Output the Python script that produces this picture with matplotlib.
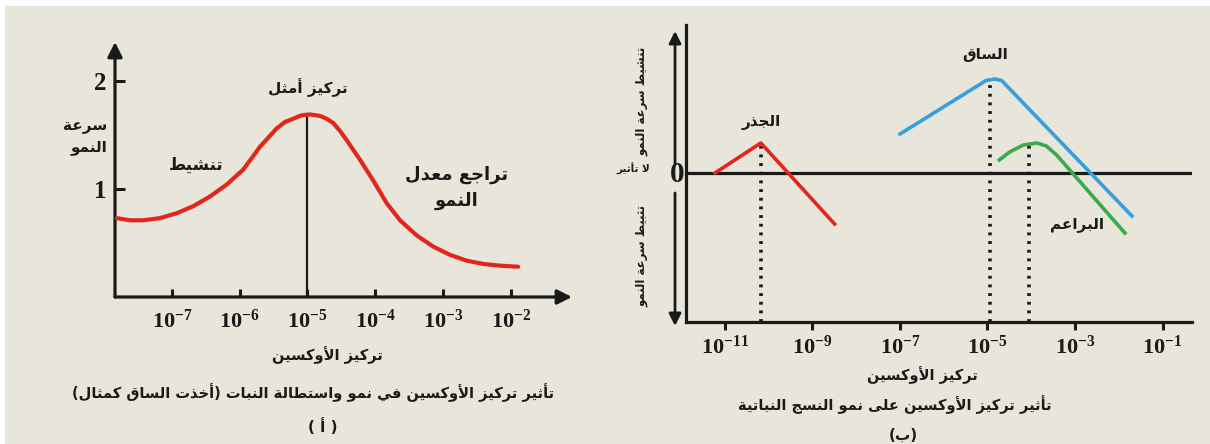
import matplotlib
matplotlib.use("Agg")
import matplotlib.pyplot as plt
from matplotlib import transforms
from matplotlib.patches import Rectangle

# ---- data ----
# (a) stem growth vs auxin concentration
conc_a = [1.53e-8, 2.4e-8, 3.77e-8, 6.65e-8, 1.17e-7, 2.06e-7, 3.64e-7, 6.41e-7,
          1.13e-6, 1.99e-6, 3.51e-6, 4.66e-6, 6.17e-6, 8.0e-6, 1.09e-5, 1.53e-5,
          1.94e-5, 2.4e-5, 3.02e-5, 3.8e-5, 5.96e-5, 9.3e-5, 1.47e-4, 2.32e-4,
          4.09e-4, 7.2e-4, 1.27e-3, 2.24e-3, 3.94e-3, 6.94e-3, 1.29e-2]
rate_a = [0.73, 0.71, 0.71, 0.73, 0.775, 0.84, 0.93, 1.04,
          1.18, 1.39, 1.56, 1.62, 1.65, 1.68, 1.69, 1.676,
          1.648, 1.61, 1.537, 1.45, 1.27, 1.08, 0.87, 0.71,
          0.57, 0.466, 0.39, 0.336, 0.306, 0.29, 0.28]
optimum_a = 1e-5
xticks_a = [1e-7, 1e-6, 1e-5, 1e-4, 1e-3, 1e-2]
xlabels_a = [r"$\mathbf{10^{-7}}$", r"$\mathbf{10^{-6}}$", r"$\mathbf{10^{-5}}$",
             r"$\mathbf{10^{-4}}$", r"$\mathbf{10^{-3}}$", r"$\mathbf{10^{-2}}$"]
yticks_a = [1, 2]

# (b) root / stem / buds
root_x = [5.9e-12, 6.6e-11, 3.2e-9]
root_y = [0.0, 0.30, -0.51]
stem_x = [1e-7, 9.3e-6, 1.48e-5, 2.1e-5, 2.0e-2]
stem_y = [0.39, 0.925, 0.94, 0.925, -0.43]
buds_x = [1.86e-5, 3.2e-5, 6.6e-5, 1.35e-4, 2.2e-4, 3.8e-4, 1.38e-2]
buds_y = [0.13, 0.21, 0.28, 0.30, 0.27, 0.18, -0.60]
optima_b = [6.6e-11, 1.17e-5, 9.1e-5]
optima_top = [0.30, 0.94, 0.30]
xticks_b = [1e-11, 1e-9, 1e-7, 1e-5, 1e-3, 1e-1]
xlabels_b = [r"$\mathbf{10^{-11}}$", r"$\mathbf{10^{-9}}$", r"$\mathbf{10^{-7}}$",
             r"$\mathbf{10^{-5}}$", r"$\mathbf{10^{-3}}$", r"$\mathbf{10^{-1}}$"]

# ---- minimal arabic shaping (matplotlib has no bidi / joining) ----
AR_FORMS = {
    0x0621: (0xFE80, 1), 0x0622: (0xFE81, 2), 0x0623: (0xFE83, 2), 0x0624: (0xFE85, 2),
    0x0625: (0xFE87, 2), 0x0626: (0xFE89, 4), 0x0627: (0xFE8D, 2), 0x0628: (0xFE8F, 4),
    0x0629: (0xFE93, 2), 0x062A: (0xFE95, 4), 0x062B: (0xFE99, 4), 0x062C: (0xFE9D, 4),
    0x062D: (0xFEA1, 4), 0x062E: (0xFEA5, 4), 0x062F: (0xFEA9, 2), 0x0630: (0xFEAB, 2),
    0x0631: (0xFEAD, 2), 0x0632: (0xFEAF, 2), 0x0633: (0xFEB1, 4), 0x0634: (0xFEB5, 4),
    0x0635: (0xFEB9, 4), 0x0636: (0xFEBD, 4), 0x0637: (0xFEC1, 4), 0x0638: (0xFEC5, 4),
    0x0639: (0xFEC9, 4), 0x063A: (0xFECD, 4), 0x0641: (0xFED1, 4), 0x0642: (0xFED5, 4),
    0x0643: (0xFED9, 4), 0x0644: (0xFEDD, 4), 0x0645: (0xFEE1, 4), 0x0646: (0xFEE5, 4),
    0x0647: (0xFEE9, 4), 0x0648: (0xFEED, 2), 0x0649: (0xFEEF, 2), 0x064A: (0xFEF1, 4),
}
LAM_ALEF = {0x0622: 0xFEF5, 0x0623: 0xFEF7, 0x0625: 0xFEF9, 0x0627: 0xFEFB}
MIRROR = {"(": ")", ")": "("}


def ar(text):
    lines = []
    for line in text.split("\n"):
        units = []
        i = 0
        while i < len(line):
            c = ord(line[i])
            if c == 0x0644 and i + 1 < len(line) and ord(line[i + 1]) in LAM_ALEF:
                units.append((LAM_ALEF[ord(line[i + 1])], 2))
                i += 2
            elif c in AR_FORMS:
                units.append(AR_FORMS[c])
                i += 1
            else:
                units.append((c, 0))
                i += 1
        out = []
        for k, (start, n) in enumerate(units):
            if n == 0:
                out.append(MIRROR.get(chr(start), chr(start)))
                continue
            prev_n = units[k - 1][1] if k > 0 else 0
            next_n = units[k + 1][1] if k + 1 < len(units) else 0
            jp = n >= 2 and prev_n == 4
            jn = n == 4 and next_n >= 2
            idx = 3 if (jp and jn) else 1 if jp else 2 if jn else 0
            out.append(chr(start + idx))
        lines.append("".join(reversed(out)))
    return "\n".join(lines)


plt.rcParams["mathtext.fontset"] = "custom"
plt.rcParams["mathtext.rm"] = "Liberation Serif:bold"
plt.rcParams["mathtext.bf"] = "Liberation Serif:bold"

BG = "#e8e5da"
RED = "#e2261c"
BLUE = "#35a0dc"
GREEN = "#3aaa4a"
INK = "#1a1a1a"
AR_FONT = dict(family="DejaVu Sans", fontweight="bold", color=INK)
NUM_FONT = dict(family="Liberation Serif", fontweight="bold", color=INK)

W, H = 1210, 444
fig = plt.figure(figsize=(W / 100, H / 100), dpi=100, facecolor="white")
fig.patches.append(Rectangle((5 / W, 0), 1, 1 - 6 / H, transform=fig.transFigure,
                             facecolor=BG, edgecolor="none", zorder=-10))

# ================= panel (a) =================
ax = fig.add_axes([115 / W, 1 - 297 / H, 457 / W, 255 / H])
ax.patch.set_visible(False)
ax.set_xscale("log")
ax.set_xlim(10 ** -7.841, 10 ** -1.096)
ax.set_ylim(0, 2.36)
for s in ax.spines.values():
    s.set_visible(False)
ax.annotate("", xy=(1, 0), xytext=(0, 0), xycoords="axes fraction",
            arrowprops=dict(arrowstyle="-|>", lw=2.3, color=INK,
                            mutation_scale=22, shrinkA=0, shrinkB=0))
ax.annotate("", xy=(0, 1), xytext=(0, 0), xycoords="axes fraction",
            arrowprops=dict(arrowstyle="-|>", lw=2.3, color=INK,
                            mutation_scale=22, shrinkA=0, shrinkB=0))
ax.plot(conc_a, rate_a, color=RED, lw=3.0, solid_capstyle="round",
        solid_joinstyle="round", zorder=3)
ax.plot([optimum_a, optimum_a], [0, max(rate_a)], color=INK, lw=1.6, zorder=2)

ax.set_xticks(xticks_a)
ax.set_xticks([], minor=True)
ax.set_xticklabels(xlabels_a, fontsize=16)
ax.set_yticks(yticks_a)
ax.set_yticklabels([str(v) for v in yticks_a], fontsize=18, **NUM_FONT)
ax.tick_params(axis="x", direction="in", length=6, width=2.2, pad=8, colors=INK)
ax.tick_params(axis="y", direction="in", length=7, width=2.2, pad=6, colors=INK)

ax.text(optimum_a, 1.94, ar("تركيز أمثل"), ha="center", va="center", fontsize=11, **AR_FONT)
ax.text(2.3e-7, 1.22, ar("تنشيط"), ha="center", va="center", fontsize=12, **AR_FONT)
ax.text(1.6e-3, 1.01, ar("تراجع معدل\nالنمو"), ha="center", va="center",
        multialignment="center", fontsize=13, linespacing=1.5, **AR_FONT)
ax.text(-0.066, 1.48, ar("سرعة\nالنمو"), transform=transforms.blended_transform_factory(
    ax.transAxes, ax.transData), ha="center", va="center", multialignment="right",
    fontsize=11, linespacing=1.4, **AR_FONT)

fig.text(327 / W, 1 - 355 / H, ar("تركيز الأوكسين"), ha="center", va="center",
         fontsize=10.5, **AR_FONT)
fig.text(313 / W, 1 - 393 / H,
         ar("تأثير تركيز الأوكسين في نمو واستطالة النبات (أخذت الساق كمثال)"),
         ha="center", va="center", fontsize=10.5, **AR_FONT)
fig.text(323 / W, 1 - 427 / H, ar("( أ )"), ha="center", va="center", fontsize=11, **AR_FONT)

# ================= panel (b) =================
bx = fig.add_axes([686 / W, 1 - 322 / H, 506 / W, 297 / H])
bx.patch.set_visible(False)
bx.set_xscale("log")
bx.set_xlim(10 ** -11.891, 10 ** -0.326)
bx.set_ylim(-1.49, 1.48)
bx.spines["top"].set_visible(False)
bx.spines["right"].set_visible(False)
for s in ("left", "bottom"):
    bx.spines[s].set_linewidth(2.3)
    bx.spines[s].set_color(INK)
bx.axhline(0, color=INK, lw=2.3, zorder=1)

for xo, yt in zip(optima_b, optima_top):
    bx.plot([xo, xo], [-1.49, yt], color=INK, lw=2.6,
            linestyle=(0, (0.8, 1.6)), zorder=2)
bx.plot(root_x, root_y, color=RED, lw=2.6, zorder=3)
bx.plot(stem_x, stem_y, color=BLUE, lw=2.6, solid_joinstyle="round", zorder=3)
bx.plot(buds_x, buds_y, color=GREEN, lw=2.6, solid_joinstyle="round", zorder=3)

bx.set_xticks(xticks_b)
bx.set_xticks([], minor=True)
bx.set_xticklabels(xlabels_b, fontsize=16)
bx.set_yticks([])
bx.tick_params(axis="x", direction="out", length=6, width=2.2, pad=3, colors=INK)

bx.text(6.6e-11, 0.50, ar("الجذر"), ha="center", va="center", fontsize=11, **AR_FONT)
bx.text(8.7e-6, 1.18, ar("الساق"), ha="center", va="center", fontsize=11, **AR_FONT)
bx.text(1.1e-3, -0.52, ar("البراعم"), ha="center", va="center", fontsize=11, **AR_FONT)

btr = transforms.blended_transform_factory(bx.transAxes, bx.transData)
bx.annotate("", xy=(-0.0217, 1.42), xytext=(-0.0217, 0.09), xycoords=btr,
            arrowprops=dict(arrowstyle="-|>", lw=2.0, color=INK,
                            mutation_scale=18, shrinkA=0, shrinkB=0))
bx.annotate("", xy=(-0.0217, -1.53), xytext=(-0.0217, -0.20), xycoords=btr,
            arrowprops=dict(arrowstyle="-|>", lw=2.0, color=INK,
                            mutation_scale=18, shrinkA=0, shrinkB=0))
bx.text(-0.018, -0.02, "0", transform=btr, ha="center", va="center", fontsize=21, **NUM_FONT)
bx.text(-0.105, 0.04, ar("لا تأثير"), transform=btr, ha="center", va="center",
        fontsize=7.5, **AR_FONT)
bx.text(-0.087, 0.72, ar("تنشيط سرعة النمو"), transform=btr, ha="center", va="center",
        rotation=90, fontsize=8.5, **AR_FONT)
bx.text(-0.087, -0.83, ar("تثبيط سرعة النمو"), transform=btr, ha="center", va="center",
        rotation=90, fontsize=8.5, **AR_FONT)

fig.text(922 / W, 1 - 375 / H, ar("تركيز الأوكسين"), ha="center", va="center",
         fontsize=10.5, **AR_FONT)
fig.text(895 / W, 1 - 405 / H, ar("تأثير تركيز الأوكسين على نمو النسج النباتية"),
         ha="center", va="center", fontsize=10.5, **AR_FONT)
fig.text(903 / W, 1 - 435 / H, ar("(ب)"), ha="center", va="center", fontsize=11, **AR_FONT)

fig.savefig("out.png", dpi=100, facecolor=fig.get_facecolor())
